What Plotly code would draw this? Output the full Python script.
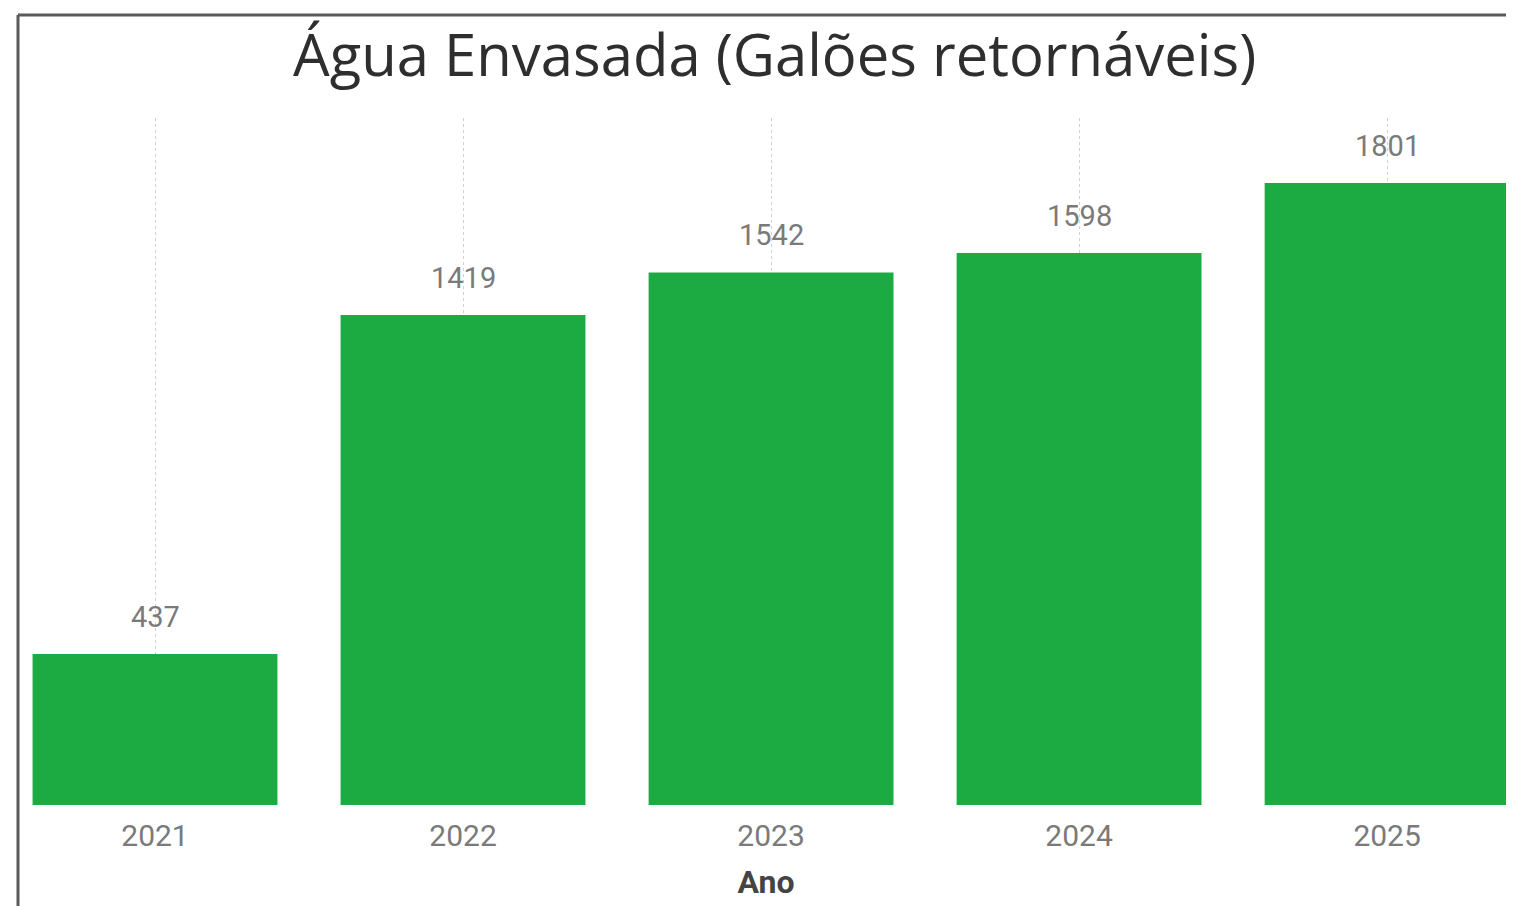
import plotly.graph_objects as go

anos = ["2021", "2022", "2023", "2024", "2025"]
galoes = [437, 1419, 1542, 1598, 1801]

titulo = "Água Envasada (Galões retornáveis)"
eixo_x = "Ano"

BAR = "#1CAB42"
FONT = "Roboto, Noto Sans, sans-serif"
TFONT = "Open Sans, Noto Sans, sans-serif"

fig = go.Figure()
fig.add_trace(go.Bar(
    x=anos, y=galoes, marker=dict(color=BAR, line=dict(width=0)),
    width=0.795, hoverinfo="x+y",
))

for i, v in enumerate(galoes):
    fig.add_annotation(x=i, y=v, text=str(v), showarrow=False,
                       xref="x", yref="y",
                       yanchor="bottom", yshift=18,
                       font=dict(family=FONT, size=29, color="#7a7a7a"))

fig.add_annotation(text=titulo, xref="paper", yref="paper", x=0.506, y=1.094,
                   xanchor="center", yanchor="middle", showarrow=False,
                   font=dict(family=TFONT, size=58, color="#2e2e2e", weight=500))

# frame lines (left and top)
fig.add_shape(type="line", xref="paper", yref="paper", x0=0, x1=0, y0=-0.2, y1=1.15,
              line=dict(color="#5a5a5a", width=3))
fig.add_shape(type="line", xref="paper", yref="paper", x0=0, x1=1.05, y0=1.15, y1=1.15,
              line=dict(color="#5a5a5a", width=3))

fig.update_layout(
    width=1506, height=898,
    margin=dict(l=10, r=0, t=110, b=101),
    paper_bgcolor="white", plot_bgcolor="white",
    showlegend=False,
    xaxis=dict(
        type="category", range=[-0.4448, 4.412],
        showgrid=True, gridcolor="#d0d0d0", griddash="dot", gridwidth=1,
        showline=False, zeroline=False, ticks="",
        tickfont=dict(family=FONT, size=30, color="#7a7a7a"),
        ticklabelstandoff=10,
        title=dict(text="<b>" + eixo_x + "</b>", standoff=18,
                   font=dict(family=FONT, size=32, color="#444444")),
    ),
    yaxis=dict(range=[0, 1989], visible=False, showgrid=False, zeroline=False),
)

fig.write_html("out.html")
